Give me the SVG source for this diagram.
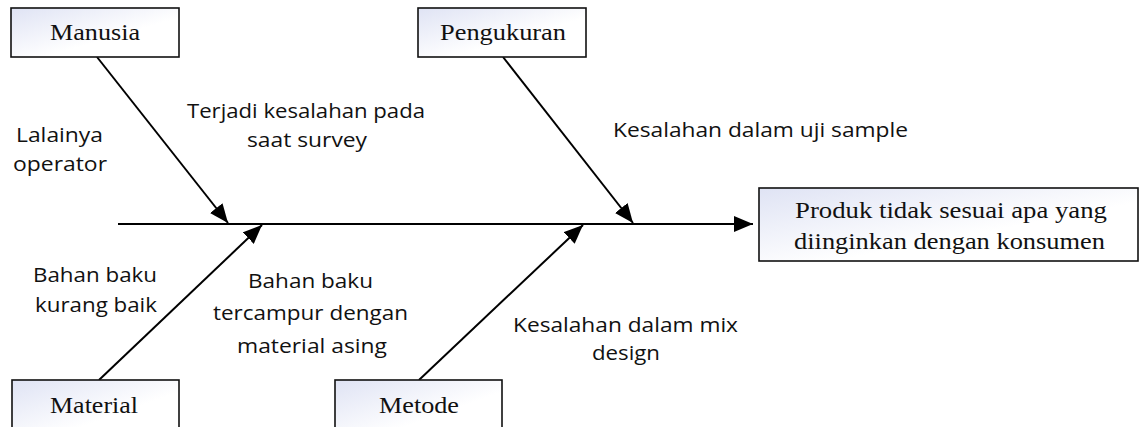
<svg xmlns="http://www.w3.org/2000/svg" width="1145" height="427" viewBox="0 0 1145 427">
  <defs>
    <linearGradient id="boxfill" x1="0" y1="0" x2="1" y2="1">
      <stop offset="0" stop-color="#dfe3f4"/>
      <stop offset="0.6" stop-color="#ffffff"/>
    </linearGradient>
    <marker id="arrow" markerUnits="userSpaceOnUse" markerWidth="20" markerHeight="16" refX="19" refY="8" orient="auto">
      <path d="M0,0 L19,8 L0,16 Z" fill="#000"/>
    </marker>
  </defs>
  <style>
    .box { fill: url(#boxfill); stroke: #111; stroke-width: 1.6; }
    .boxtext { font-family: "Liberation Serif", "Times New Roman", serif; font-size: 22.5px; fill: #111; }
    .label { font-family: "Open Sans", "Noto Sans", sans-serif; font-size: 20px; fill: #111; }
    .conn { stroke: #000; stroke-width: 2; fill: none; marker-end: url(#arrow); }
  </style>
  <rect width="1145" height="427" fill="#fff"/>

  <g id="connectors">
    <line class="conn" x1="118" y1="224" x2="753" y2="224"/>
    <line class="conn" x1="97" y1="57" x2="228" y2="223"/>
    <line class="conn" x1="503" y1="57" x2="633" y2="223"/>
    <line class="conn" x1="99" y1="380" x2="262" y2="225"/>
    <line class="conn" x1="419" y1="380" x2="583" y2="225"/>
  </g>

  <g id="node-manusia">
    <rect class="box" x="11" y="8" width="168" height="49"/>
    <text class="boxtext" x="50" y="40" textLength="90" lengthAdjust="spacingAndGlyphs">Manusia</text>
  </g>
  <g id="node-pengukuran">
    <rect class="box" x="418" y="8" width="168" height="49"/>
    <text class="boxtext" x="440" y="40" textLength="126" lengthAdjust="spacingAndGlyphs">Pengukuran</text>
  </g>
  <g id="node-material">
    <rect class="box" x="12" y="380" width="167" height="60"/>
    <text class="boxtext" x="50" y="413" textLength="88" lengthAdjust="spacingAndGlyphs">Material</text>
  </g>
  <g id="node-metode">
    <rect class="box" x="335" y="380" width="167" height="60"/>
    <text class="boxtext" x="379" y="413" textLength="80" lengthAdjust="spacingAndGlyphs">Metode</text>
  </g>
  <g id="node-effect">
    <rect class="box" x="759" y="188" width="379" height="73"/>
    <text class="boxtext" x="795" y="218" textLength="312" lengthAdjust="spacingAndGlyphs">Produk tidak sesuai apa yang</text>
    <text class="boxtext" x="794" y="249" textLength="311" lengthAdjust="spacingAndGlyphs">diinginkan dengan konsumen</text>
  </g>

  <g id="labels">
    <text class="label" x="16" y="142" textLength="87" lengthAdjust="spacingAndGlyphs">Lalainya</text>
    <text class="label" x="13" y="171" textLength="94" lengthAdjust="spacingAndGlyphs">operator</text>
    <text class="label" x="187" y="118" textLength="238" lengthAdjust="spacingAndGlyphs">Terjadi kesalahan pada</text>
    <text class="label" x="247" y="147" textLength="120" lengthAdjust="spacingAndGlyphs">saat survey</text>
    <text class="label" x="613" y="137" textLength="295" lengthAdjust="spacingAndGlyphs">Kesalahan dalam uji sample</text>
    <text class="label" x="33" y="282" textLength="124" lengthAdjust="spacingAndGlyphs">Bahan baku</text>
    <text class="label" x="35" y="312" textLength="122" lengthAdjust="spacingAndGlyphs">kurang baik</text>
    <text class="label" x="248" y="288" textLength="125" lengthAdjust="spacingAndGlyphs">Bahan baku</text>
    <text class="label" x="213" y="320" textLength="195" lengthAdjust="spacingAndGlyphs">tercampur dengan</text>
    <text class="label" x="237" y="353" textLength="150" lengthAdjust="spacingAndGlyphs">material asing</text>
    <text class="label" x="513" y="332" textLength="225" lengthAdjust="spacingAndGlyphs">Kesalahan dalam mix</text>
    <text class="label" x="592" y="360" textLength="68" lengthAdjust="spacingAndGlyphs">design</text>
  </g>
</svg>
